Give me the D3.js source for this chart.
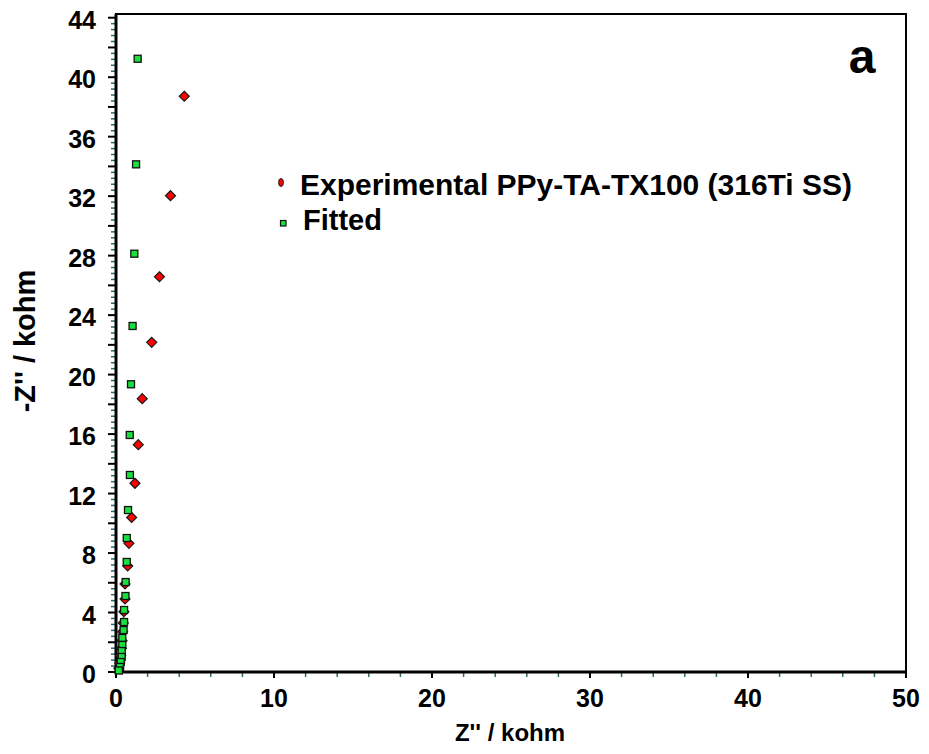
<!DOCTYPE html>
<html>
<head>
<meta charset="utf-8">
<script src="https://cdn.jsdelivr.net/npm/d3@7"></script>
<style>
  html, body { margin: 0; padding: 0; background: #fff; }
  svg { display: block; }
  text { font-family: "Liberation Sans", Arial, sans-serif; font-weight: bold; fill: #000; }
</style>
</head>
<body>
<svg id="chart" width="929" height="754"></svg>
<script>
// Nyquist data, Z' and -Z'' in kohm
const expZre = [4.32, 3.45, 2.75, 2.26, 1.66, 1.41, 1.20, 0.99, 0.82, 0.74, 0.57, 0.57, 0.50, 0.46, 0.42, 0.38, 0.34, 0.30, 0.24, 0.18];
const expZim = [38.72, 32.03, 26.58, 22.17, 18.38, 15.29, 12.69, 10.39, 8.65, 7.13, 5.92, 4.91, 4.05, 3.3, 2.7, 2.1, 1.6, 1.1, 0.6, 0.25];
const fitZre = [1.37, 1.27, 1.16, 1.05, 0.95, 0.87, 0.88, 0.76, 0.68, 0.68, 0.61, 0.60, 0.51, 0.51, 0.48, 0.40, 0.40, 0.36, 0.36, 0.30, 0.25, 0.18];
const fitZim = [41.24, 34.14, 28.13, 23.27, 19.35, 15.94, 13.25, 10.89, 9.01, 7.40, 6.05, 5.11, 4.17, 3.36, 2.82, 2.29, 1.82, 1.41, 1.01, 0.67, 0.34, 0.1];

const xTickLabels = [0, 10, 20, 30, 40, 50];
const yTickLabels = [0, 4, 8, 12, 16, 20, 24, 28, 32, 36, 40, 44];
const seriesNames = ["Experimental PPy-TA-TX100 (316Ti SS)", "Fitted"];

const svg = d3.select("#chart");
const plotL = 116, plotR = 906, plotT = 14, plotB = 672;

const x = d3.scaleLinear().domain([0, 50]).range([plotL, plotR]);
const y = d3.scaleLinear().domain([0, 44.25]).range([plotB, plotT]);

const tickTeal = "#2f6a6a";

// plot frame
svg.append("rect")
  .attr("x", plotL).attr("y", plotT)
  .attr("width", x(50) - plotL).attr("height", plotB - plotT)
  .attr("fill", "none").attr("stroke", "#000").attr("stroke-width", 2);

// x axis: minor ticks every 2, major every 10
const xMinor = d3.range(0, 50.01, 2).filter(v => v % 10 !== 0);
svg.append("g").selectAll("line").data(xMinor).join("line")
  .attr("x1", d => x(d)).attr("x2", d => x(d))
  .attr("y1", plotB + 1).attr("y2", plotB + 5)
  .attr("stroke", tickTeal).attr("stroke-width", 1.5);
svg.append("g").selectAll("line").data(xTickLabels).join("line")
  .attr("x1", d => x(d)).attr("x2", d => x(d))
  .attr("y1", plotB).attr("y2", plotB + 6)
  .attr("stroke", "#000").attr("stroke-width", 2);
svg.append("g").selectAll("text").data(xTickLabels).join("text")
  .attr("x", d => x(d)).attr("y", 707)
  .attr("text-anchor", "middle").attr("font-size", 25)
  .text(d => d);

// y axis: minor ticks every 0.4, major every 2, labels every 4
const yMinor = d3.range(0, 44.001, 0.4).map(v => +v.toFixed(1)).filter(v => Math.abs(v / 2 - Math.round(v / 2)) > 1e-6);
const yMajor = d3.range(0, 44.01, 2);
svg.append("g").selectAll("line").data(yMinor).join("line")
  .attr("x1", plotL - 5).attr("x2", plotL - 1)
  .attr("y1", d => y(d)).attr("y2", d => y(d))
  .attr("stroke", tickTeal).attr("stroke-width", 1.5);
svg.append("g").selectAll("line").data(yMajor).join("line")
  .attr("x1", plotL - 8).attr("x2", plotL)
  .attr("y1", d => y(d)).attr("y2", d => y(d))
  .attr("stroke", "#000").attr("stroke-width", 2);
svg.append("g").selectAll("text").data(yTickLabels).join("text")
  .attr("x", 96).attr("y", d => y(d) + 11)
  .attr("text-anchor", "end").attr("font-size", 25)
  .text(d => d);

// thicker left and bottom axis lines
svg.append("line").attr("x1", plotL).attr("x2", plotL).attr("y1", plotT).attr("y2", plotB + 2)
  .attr("stroke", "#000").attr("stroke-width", 3);
svg.append("line").attr("x1", plotL - 1).attr("x2", x(50)).attr("y1", plotB).attr("y2", plotB)
  .attr("stroke", "#000").attr("stroke-width", 3);

// axis titles
svg.append("text").attr("x", 510).attr("y", 741)
  .attr("text-anchor", "middle").attr("font-size", 24)
  .text("Z'' / kohm");
svg.append("text")
  .attr("transform", "translate(35,341) rotate(-90)")
  .attr("text-anchor", "middle").attr("font-size", 29)
  .text("-Z'' / kohm");

// markers
const diamond = s => `M0,${-s}L${s},0L0,${s}L${-s},0Z`;
const expData = expZre.map((v, i) => [v, expZim[i]]);
const fitData = fitZre.map((v, i) => [v, fitZim[i]]);

svg.append("g").selectAll("path").data(expData).join("path")
  .attr("transform", d => `translate(${x(d[0])},${y(d[1])})`)
  .attr("d", diamond(5))
  .attr("fill", "#ff0000").attr("stroke", "#1a1a1a").attr("stroke-width", 1.2);

svg.append("g").selectAll("rect").data(fitData).join("rect")
  .attr("x", d => x(d[0]) - 3.5).attr("y", d => y(d[1]) - 3.5)
  .attr("width", 7).attr("height", 7)
  .attr("fill", "#19e03c").attr("stroke", "#111").attr("stroke-width", 1.3);

// legend
const lg = svg.append("g");
lg.append("ellipse").attr("cx", 281).attr("cy", 182.5).attr("rx", 2.4).attr("ry", 4)
  .attr("fill", "#ff0000").attr("stroke", "#1a1a1a").attr("stroke-width", 1);
lg.append("text").attr("x", 300).attr("y", 195).attr("font-size", 29)
  .attr("textLength", 552).attr("lengthAdjust", "spacingAndGlyphs")
  .text(seriesNames[0]);
lg.append("rect").attr("x", 280.5).attr("y", 220.5).attr("width", 5.5).attr("height", 5.5)
  .attr("fill", "#19e03c").attr("stroke", "#111").attr("stroke-width", 1.2);
lg.append("text").attr("x", 303).attr("y", 230).attr("font-size", 29).text(seriesNames[1]);

// panel letter
svg.append("text").attr("x", 862).attr("y", 73).attr("text-anchor", "middle")
  .attr("font-size", 48).text("a");
</script>
</body>
</html>
